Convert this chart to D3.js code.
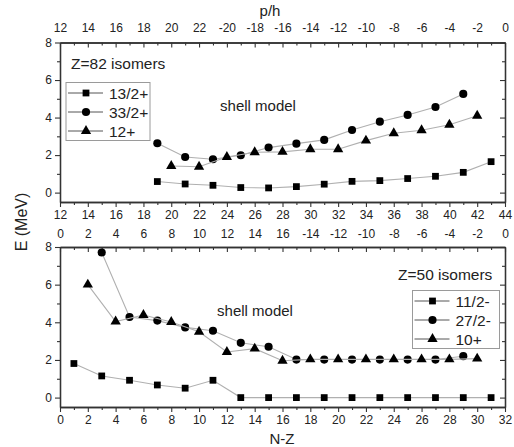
<!DOCTYPE html>
<html lang="en">
<head>
<meta charset="utf-8" />
<title>isomers</title>
<script src="https://d3js.org/d3.v7.min.js"></script>
<style>
  body { margin: 0; background: #fff; }
  text { font-family: Arial, "Liberation Sans", sans-serif; fill: #222; }
</style>
</head>
<body>
<div id="chart"></div>
<script>
// ---- data: Z=82 isomers (top panel, x = N-Z)
var x13_2 = [19, 21, 23, 25, 27, 29, 31, 33, 35, 37, 39, 41, 43];
var e13_2 = [0.59, 0.46, 0.39, 0.27, 0.25, 0.32, 0.45, 0.60, 0.64, 0.75, 0.87, 1.08, 1.65];
var x33_2 = [19, 21, 23, 25, 27, 29, 31, 33, 35, 37, 39, 41];
var e33_2 = [2.63, 1.90, 1.78, 1.99, 2.40, 2.61, 2.81, 3.34, 3.78, 4.14, 4.56, 5.26];
var x12 = [20, 22, 24, 26, 28, 30, 32, 34, 36, 38, 40, 42];
var e12 = [1.42, 1.38, 1.90, 2.15, 2.17, 2.31, 2.31, 2.77, 3.16, 3.32, 3.62, 4.10];

// ---- data: Z=50 isomers (bottom panel)
var x11_2 = [1, 3, 5, 7, 9, 11, 13, 15, 17, 19, 21, 23, 25, 27, 29, 31];
var e11_2 = [1.81, 1.15, 0.92, 0.67, 0.50, 0.92, 0, 0, 0, 0, 0, 0, 0, 0, 0, 0];
var x27_2 = [3, 5, 7, 9, 11, 13, 15, 17, 19, 21, 23, 25, 27, 29];
var e27_2 = [7.71, 4.28, 4.09, 3.73, 3.55, 2.91, 2.70, 2.02, 2.02, 2.02, 2.02, 2.02, 2.02, 2.20];
var x10 = [2, 4, 6, 8, 10, 12, 14, 16, 18, 20, 22, 24, 26, 28, 30];
var e10 = [6.00, 4.04, 4.39, 4.02, 3.50, 2.42, 2.60, 1.96, 2.03, 2.03, 2.03, 2.03, 2.03, 2.03, 2.07];

// tick labels of the p/h axes
var topPH = ["12", "14", "16", "18", "20", "22", "-20", "-18", "-16", "-14", "-12", "-10", "-8", "-6", "-4", "-2", "0"];
var botPH = ["0", "2", "4", "6", "8", "10", "12", "14", "16", "-14", "-12", "-10", "-8", "-6", "-4", "-2", "0"];

var W = 514, H = 447;
var left = 60, right = 505;

var svg = d3.select("#chart").append("svg")
    .attr("width", W).attr("height", H);

var lineCol = "#b0b0b0", axisCol = "#333";

function range2(a, b, step) { return d3.range(a, b + 0.001, step); }

function panel(cfg) {
    var x = d3.scaleLinear().domain(cfg.xdom).range([left, right]);
    var y = d3.scaleLinear().domain([-0.5, 8]).range([cfg.bottom, cfg.top]);
    var g = svg.append("g");

    var majX = range2(cfg.xdom[0], cfg.xdom[1], 2);
    var minX = range2(cfg.xdom[0] + 1, cfg.xdom[1] - 1, 2);
    var majY = [0, 2, 4, 6, 8], minY = [1, 3, 5, 7];

    function styleAxis(sel) {
        sel.select(".domain").attr("stroke", axisCol).attr("stroke-width", 1.3);
        sel.selectAll(".tick line").attr("stroke", axisCol).attr("stroke-width", 1.1);
        sel.selectAll(".tick text").style("font-size", "12px").attr("fill", "#222");
    }

    // bottom axis (ticks out)
    g.append("g").attr("transform", "translate(0," + cfg.bottom + ")")
        .call(d3.axisBottom(x).tickValues(majX).tickSize(5).tickSizeOuter(0).tickPadding(3))
        .call(styleAxis);
    g.append("g").attr("transform", "translate(0," + cfg.bottom + ")")
        .call(d3.axisBottom(x).tickValues(minX).tickSize(3).tickSizeOuter(0).tickFormat(""))
        .call(styleAxis);

    // top axis (ticks in) with p/h labels
    g.append("g").attr("transform", "translate(0," + cfg.top + ")")
        .call(d3.axisTop(x).tickValues(majX).tickSize(-5).tickSizeOuter(0).tickPadding(cfg.topPad)
            .tickFormat(function (d, i) { return cfg.phLabels[i]; }))
        .call(styleAxis);
    g.append("g").attr("transform", "translate(0," + cfg.top + ")")
        .call(d3.axisTop(x).tickValues(minX).tickSize(-3).tickSizeOuter(0).tickFormat(""))
        .call(styleAxis);

    // left axis (ticks out)
    g.append("g").attr("transform", "translate(" + left + ",0)")
        .call(d3.axisLeft(y).tickValues(majY).tickSize(5).tickSizeOuter(0).tickPadding(3))
        .call(styleAxis);
    g.append("g").attr("transform", "translate(" + left + ",0)")
        .call(d3.axisLeft(y).tickValues(minY).tickSize(3).tickSizeOuter(0).tickFormat(""))
        .call(styleAxis);

    // right axis (ticks in)
    g.append("g").attr("transform", "translate(" + right + ",0)")
        .call(d3.axisRight(y).tickValues(majY).tickSize(-5).tickSizeOuter(0).tickFormat(""))
        .call(styleAxis);
    g.append("g").attr("transform", "translate(" + right + ",0)")
        .call(d3.axisRight(y).tickValues(minY).tickSize(-3).tickSizeOuter(0).tickFormat(""))
        .call(styleAxis);

    // series
    var line = d3.line().x(function (d) { return x(d[0]); }).y(function (d) { return y(d[1]); });
    cfg.series.forEach(function (s) {
        var pts = d3.zip(s.x, s.e);
        g.append("path").datum(pts).attr("d", line)
            .attr("fill", "none").attr("stroke", lineCol).attr("stroke-width", 1.1);
        g.selectAll(null).data(pts).enter().append("path")
            .attr("transform", function (d) { return "translate(" + x(d[0]) + "," + y(d[1]) + ")"; })
            .attr("d", s.sym)
            .attr("fill", "#000");
    });

    // title / annotation
    g.append("text").attr("x", cfg.title[0]).attr("y", cfg.title[1])
        .style("font-size", "15.5px").text(cfg.title[2]);
    g.append("text").attr("x", cfg.shell[0]).attr("y", cfg.shell[1])
        .attr("text-anchor", "middle").style("font-size", "15px").text("shell model");

    // legend
    var lg = g.append("g").attr("transform", "translate(" + cfg.legend[0] + "," + cfg.legend[1] + ")");
    lg.append("rect").attr("x", 0).attr("y", 0).attr("width", cfg.legend[2]).attr("height", 58)
        .attr("fill", "#fff").attr("stroke", "#9a9a9a").attr("stroke-width", 1);
    cfg.series.forEach(function (s, i) {
        var yy = 10.5 + i * 19;
        lg.append("line").attr("x1", 2).attr("x2", 37).attr("y1", yy).attr("y2", yy)
            .attr("stroke", "#555").attr("stroke-width", 1);
        lg.append("path").attr("transform", "translate(20," + yy + ")").attr("d", s.sym).attr("fill", "#000");
        lg.append("text").attr("x", 43).attr("y", yy + 5.5).style("font-size", "15.5px").text(s.name);
    });
}

var sq = d3.symbol().type(d3.symbolSquare).size(46)();
var ci = d3.symbol().type(d3.symbolCircle).size(52)();
var tr = d3.symbol().type(d3.symbolTriangle).size(46)();

panel({
    xdom: [12, 44], top: 42.5, bottom: 202, topPad: 11, phLabels: topPH,
    series: [
        { name: "13/2+", x: x13_2, e: e13_2, sym: sq },
        { name: "33/2+", x: x33_2, e: e33_2, sym: ci },
        { name: "12+", x: x12, e: e12, sym: tr }
    ],
    title: [71, 69, "Z=82 isomers"],
    shell: [258, 111],
    legend: [66, 82.5, 84]
});

panel({
    xdom: [0, 32], top: 247, bottom: 407, topPad: 9.5, phLabels: botPH,
    series: [
        { name: "11/2-", x: x11_2, e: e11_2, sym: sq },
        { name: "27/2-", x: x27_2, e: e27_2, sym: ci },
        { name: "10+", x: x10, e: e10, sym: tr }
    ],
    title: [398, 279.5, "Z=50 isomers"],
    shell: [255, 316],
    legend: [412.5, 290.5, 87]
});

// axis titles
svg.append("text").attr("x", 270).attr("y", 16).attr("text-anchor", "middle")
    .style("font-size", "15px").text("p/h");
svg.append("text").attr("x", 282).attr("y", 444).attr("text-anchor", "middle")
    .style("font-size", "15px").text("N-Z");
svg.append("text").attr("transform", "translate(27,222)rotate(-90)").attr("text-anchor", "middle")
    .style("font-size", "16px").text("E (MeV)");
</script>
</body>
</html>
